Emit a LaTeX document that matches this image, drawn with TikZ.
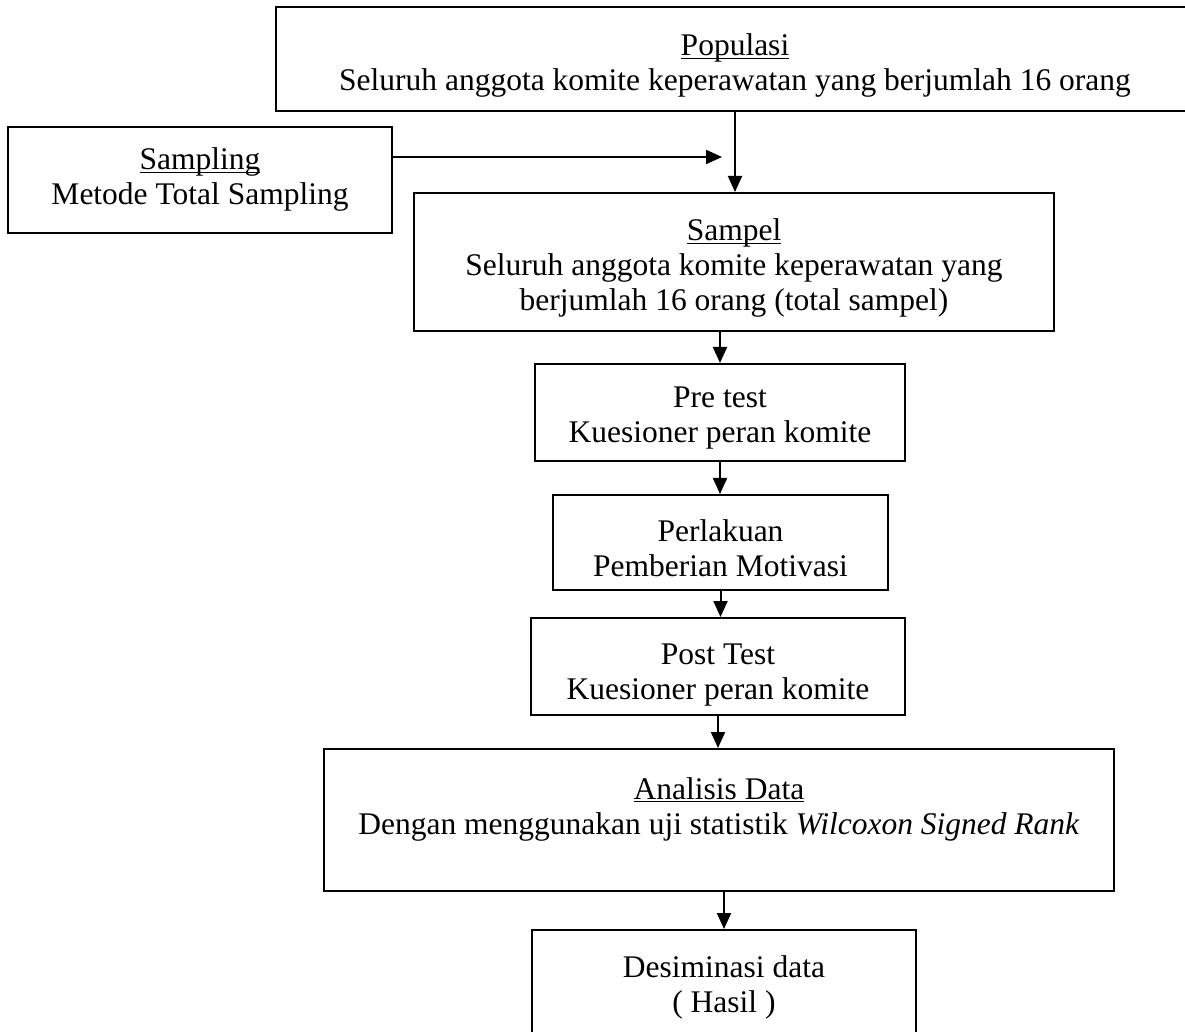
\documentclass[tikz,border=0pt]{standalone}
\usepackage{fontspec}
\setmainfont{Liberation Serif}
\usetikzlibrary{arrows.meta}
\newcommand{\ulx}[1]{\underline{\smash{#1}}}
\begin{document}
\begin{tikzpicture}[x=0.5pt,y=-0.5pt,
  box/.style={draw, line width=1pt, inner sep=0pt, align=center,
    font=\fontsize{15.75pt}{17.5pt}\selectfont},
  txt/.style={inner sep=0pt, align=center, font=\fontsize{15.75pt}{17.5pt}\selectfont},
  ltwo/.style={text height=28.5pt, text depth=3.5pt},
  lthree/.style={text height=46pt, text depth=3.5pt},
  arr/.style={line width=1pt, -{Triangle[length=8pt,width=7pt]}}]
\useasboundingbox (0,0) rectangle (1185,1032);
\begin{scope}
\clip (0,0) rectangle (1185,1032);
\node[box, minimum width=459pt, minimum height=52pt] (pop) at (735,59) {};
\node[txt, ltwo] (poptext) at (735,66)
  {\ulx{Populasi}\\Seluruh anggota komite keperawatan yang berjumlah 16 orang};
\node[box, ltwo, minimum width=192pt, minimum height=53pt] (samp) at (200,180)
  {\ulx{Sampling}\\Metode Total Sampling};
\node[box, lthree, text height=52pt, minimum width=320pt, minimum height=69pt] (sampel) at (734,262)
  {\ulx{Sampel}\\Seluruh anggota komite keperawatan yang\\berjumlah 16 orang (total sampel)};
\node[box, ltwo, text height=33.5pt, minimum width=185pt, minimum height=48.5pt] (pre) at (720,412.5)
  {Pre test\\Kuesioner peran komite};
\node[box, ltwo, text height=37.5pt, minimum width=167.5pt, minimum height=47.5pt] (perl) at (720.5,542.5)
  {Perlakuan\\Pemberian Motivasi};
\node[box, ltwo, text height=36.5pt, minimum width=187pt, minimum height=48.5pt] (post) at (718,666.5)
  {Post Test\\Kuesioner peran komite};
\node[box, minimum width=395pt, minimum height=71pt] (anal) at (719,820) {};
\node[txt, ltwo] (analtext) at (719,809)
  {\ulx{Analisis Data}\\Dengan menggunakan uji statistik \textit{Wilcoxon Signed Rank}};
\node[box, ltwo, text height=32.5pt, minimum width=192pt, minimum height=53.5pt] (desm) at (724,983.5)
  {Desiminasi data\\( Hasil )};
\coordinate (sj) at (722,157);
\draw[arr] (pop.south) -- (pop.south |- sampel.north);
\draw[arr] (samp.east |- sj) -- (sj);
\draw[arr] (sampel.south -| pre.north) -- (pre.north);
\draw[arr] (pre.south) -- (pre.south |- perl.north);
\draw[arr] (perl.south) -- (perl.south |- post.north);
\draw[arr] (post.south) -- (post.south |- anal.north);
\draw[arr] (desm.north |- anal.south) -- (desm.north);
\end{scope}
\end{tikzpicture}
\end{document}
